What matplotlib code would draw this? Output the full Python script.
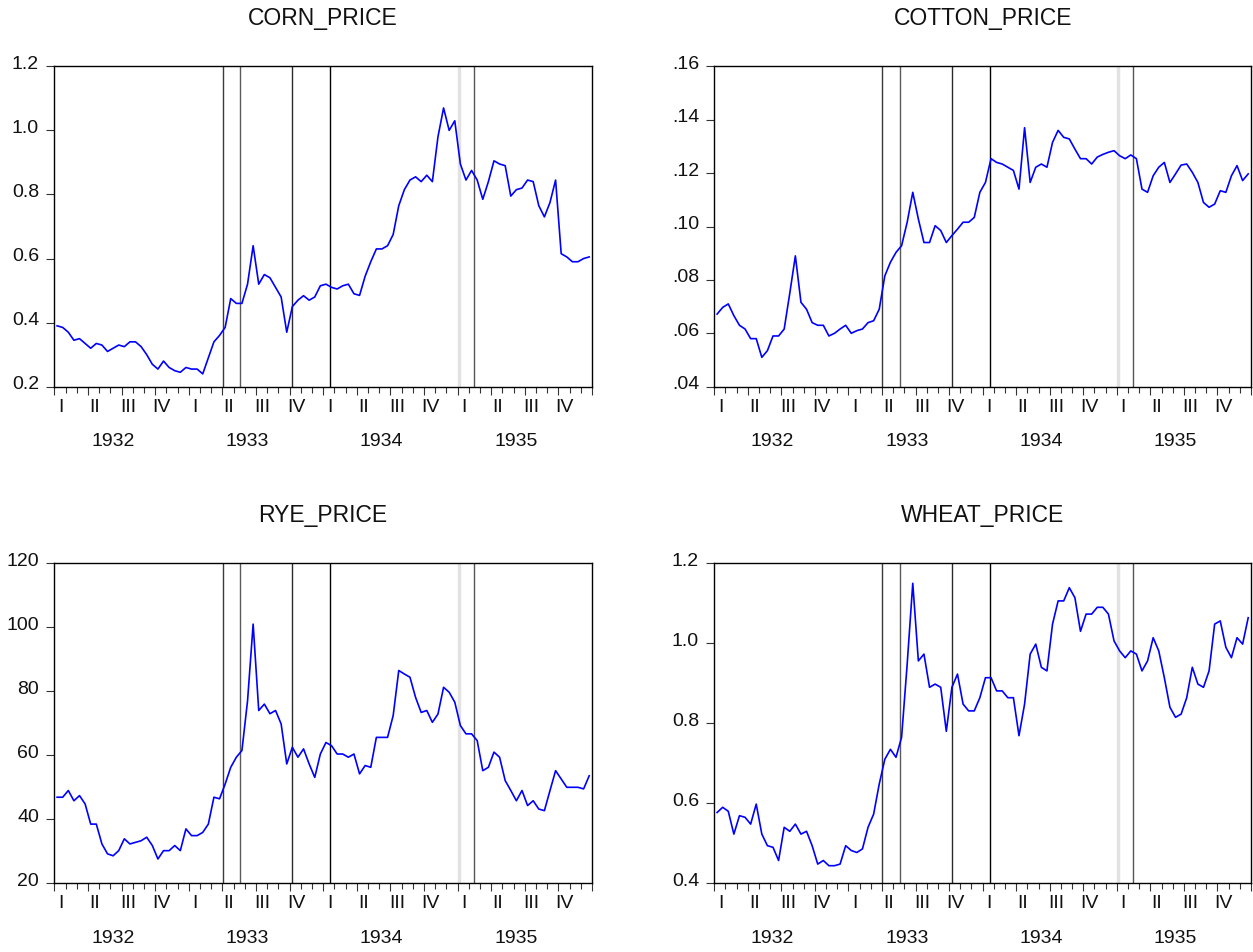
import numpy as np
import matplotlib
matplotlib.use("Agg")
import matplotlib.pyplot as plt
import matplotlib.transforms as mtransforms

plt.rcParams['font.family'] = ['Liberation Sans', 'DejaVu Sans']

# ---------------- data (semi-monthly readings, Jan 1932 - Dec 1935) ----------------
corn_price = [0.39, 0.385, 0.37, 0.345, 0.35, 0.335, 0.32, 0.335, 0.33, 0.31, 0.32, 0.33,
              0.325, 0.34, 0.34, 0.325, 0.30, 0.27, 0.255, 0.28, 0.26, 0.25, 0.245, 0.26,
              0.255, 0.255, 0.24, 0.29, 0.34, 0.36, 0.385, 0.475, 0.46, 0.46, 0.52, 0.64,
              0.52, 0.55, 0.54, 0.51, 0.48, 0.37, 0.45, 0.47,
              0.484, 0.47, 0.48, 0.515, 0.52, 0.51, 0.505, 0.515, 0.52, 0.49, 0.485, 0.545,
              0.59, 0.63, 0.63, 0.64, 0.675, 0.765, 0.815, 0.845, 0.855, 0.84, 0.86, 0.84,
              0.98, 1.07, 1.0, 1.03, 0.895, 0.845, 0.875, 0.845, 0.785, 0.84, 0.905, 0.895,
              0.89, 0.795, 0.815, 0.82, 0.845, 0.84, 0.765, 0.73, 0.775, 0.845, 0.615, 0.605,
              0.59, 0.59, 0.6, 0.605]

cotton_price = [.0672, .0697, .071, .0666, .063, .0616, .058, .058, .051, .0535, .059, .059,
                .0616, .075, .089, .0716, .069, .064, .063, .063, .059, .060, .0616, .063,
                .060, .061, .0616, .064, .0647, .069, .0815, .0866, .0903, .0928, .1016, .1128,
                .1028, .094, .094, .1003, .0985, .094, .0966, .099,
                .1016, .1016, .1034, .1128, .1165, .1254, .124, .1234, .1222, .121, .114, .137,
                .1165, .1222, .1234, .1222, .1315, .136, .1334, .1328, .129, .1254, .1254, .1234,
                .126, .127, .1278, .1284, .1265, .1254, .1268, .1254, .114, .1128, .119, .1222,
                .124, .1165, .1197, .123, .1234, .1203, .1165, .109, .1072, .1084, .1134, .1128,
                .119, .1228, .1172, .1197]

rye_price = [46.9, 46.9, 49, 45.8, 47.4, 44.8, 38.5, 38.5, 32.3, 29.2, 28.6, 30.2,
             33.9, 32.3, 32.8, 33.3, 34.4, 31.8, 27.6, 30.2, 30.2, 31.8, 30.2, 37,
             34.9, 34.9, 35.9, 38.5, 46.9, 46.4, 51, 56.25, 59.4, 61.5, 77, 101,
             74, 76, 73, 74, 69.8, 57.3, 62.5, 59.4,
             62, 57.3, 53.1, 60.4, 64, 63, 60.4, 60.4, 59.4, 60.4, 54.2, 56.8,
             56.25, 65.6, 65.6, 65.6, 72.4, 86.5, 85.4, 84.4, 78.1, 73.4, 74, 70.3,
             72.9, 81.25, 79.7, 76.6, 69.3, 66.7, 66.7, 64.6, 55.2, 56.25, 61, 59.4,
             52.1, 49, 45.8, 49, 44.3, 45.8, 43.2, 42.7, 49, 55.2, 52.6, 50,
             50, 50, 49.5, 53.6]

wheat_price = [0.577, 0.59, 0.58, 0.523, 0.569, 0.565, 0.548, 0.598, 0.523, 0.494, 0.49, 0.457,
               0.54, 0.53, 0.548, 0.523, 0.53, 0.494, 0.448, 0.457, 0.444, 0.444, 0.448, 0.494,
               0.482, 0.477, 0.486, 0.54, 0.573, 0.648, 0.71, 0.735, 0.715, 0.765, 0.948, 1.15,
               0.956, 0.973, 0.89, 0.898, 0.89, 0.78, 0.89, 0.923,
               0.848, 0.831, 0.831, 0.864, 0.914, 0.914, 0.881, 0.881, 0.864, 0.864, 0.769, 0.848,
               0.973, 0.998, 0.94, 0.931, 1.048, 1.106, 1.106, 1.139, 1.114, 1.03, 1.073, 1.073,
               1.09, 1.09, 1.073, 1.006, 0.981, 0.964, 0.981, 0.973, 0.931, 0.956, 1.014, 0.981,
               0.914, 0.84, 0.815, 0.823, 0.864, 0.94, 0.898, 0.89, 0.931, 1.048, 1.056, 0.99,
               0.964, 1.014, 0.998, 1.064]

# observation times (fractional years, mid points of half-months)
obs_time = 1932 + (np.arange(96) + 0.5) / 24.0

titles = ["CORN_PRICE", "COTTON_PRICE", "RYE_PRICE", "WHEAT_PRICE"]
series = [corn_price, cotton_price, rye_price, wheat_price]
years = [1932, 1933, 1934, 1935]
quarter_labels = ["I", "II", "III", "IV"]

# event lines (fractional years) and their colours
event_dates = [1933.253, 1933.381, 1933.771, 1934.053, 1935.011, 1935.122]
event_colors = ["#3a3a3a", "#5a5a5a", "#2a2a2a", "#000000", "#e2e2e2", "#555555"]
event_widths = [1.0, 1.0, 1.0, 1.0, 2.5, 1.0]

ylims = [(0.2, 1.2), (0.04, 0.16), (20, 120), (0.4, 1.2)]
yticks = [[0.2, 0.4, 0.6, 0.8, 1.0, 1.2],
          [0.04, 0.06, 0.08, 0.10, 0.12, 0.14, 0.16],
          [20, 40, 60, 80, 100, 120],
          [0.4, 0.6, 0.8, 1.0, 1.2]]
ytick_labels = [["0.2", "0.4", "0.6", "0.8", "1.0", "1.2"],
                [".04", ".06", ".08", ".10", ".12", ".14", ".16"],
                ["20", "40", "60", "80", "100", "120"],
                ["0.4", "0.6", "0.8", "1.0", "1.2"]]

# ---------------- figure ----------------
W, H = 1253, 953
fig = plt.figure(figsize=(W / 100, H / 100), dpi=100)

boxes_px = [(54.3, 67.3, 592.0, 387.7),
            (714.3, 67.3, 1251.0, 387.7),
            (54.3, 564.3, 592.0, 884.3),
            (714.3, 564.3, 1251.0, 884.3)]

FS = 14

for i in range(4):
    x0, y0, x1, y1 = boxes_px[i]
    ax = fig.add_axes([x0 / W, 1 - y1 / H, (x1 - x0) / W, (y1 - y0) / H])
    for d, c, lw in zip(event_dates, event_colors, event_widths):
        ax.axvline(d, color=c, lw=lw, zorder=1)
    ax.plot(obs_time, series[i], color="#0000ff", lw=1.2, zorder=3)
    ax.set_xlim(1932, 1936)
    ax.set_ylim(*ylims[i])
    for sp in ax.spines.values():
        sp.set_linewidth(1.0)
        sp.set_color("black")
        sp.set_zorder(5)

    # y axis
    ax.set_yticks(yticks[i])
    ax.set_yticklabels(ytick_labels[i], fontsize=FS, color="#111111")
    ax.tick_params(axis="y", direction="out", length=6, width=0.8, pad=5, colors="#333333",
                   labelcolor="#111111")
    off = mtransforms.ScaledTranslation(0, 5 / 100, fig.dpi_scale_trans)
    for lab in ax.get_yticklabels():
        lab.set_transform(lab.get_transform() + off)

    # x axis: quarter major ticks, monthly minor ticks
    ax.set_xticks([1932 + q / 4 for q in range(17)])
    ax.set_xticks([1932 + m / 12 for m in range(49)], minor=True)
    ax.set_xticklabels([])
    ax.tick_params(axis="x", which="major", direction="out", length=6, width=0.8, colors="#333333")
    ax.tick_params(axis="x", which="minor", direction="out", length=4, width=0.8, colors="#333333")

    xtr = ax.get_xaxis_transform()
    q_off = mtransforms.ScaledTranslation(0, -19.5 / 100, fig.dpi_scale_trans)
    y_off = mtransforms.ScaledTranslation(0, -54 / 100, fig.dpi_scale_trans)
    for yi, yr in enumerate(years):
        for q in range(4):
            ax.text(yr + q / 4 + 0.048, 0, quarter_labels[q], transform=xtr + q_off,
                    ha="center", va="center", fontsize=FS, color="#111111", clip_on=False)
        ax.text(yr + 0.435, 0, str(yr), transform=xtr + y_off,
                ha="center", va="center", fontsize=FS, color="#111111", clip_on=False)

    # title
    fig.text((x0 + x1) / 2 / W, 1 - (y0 - 49) / H, titles[i], ha="center", va="center",
             fontsize=16.5, color="#111111")

fig.savefig("out.png", dpi=100)
